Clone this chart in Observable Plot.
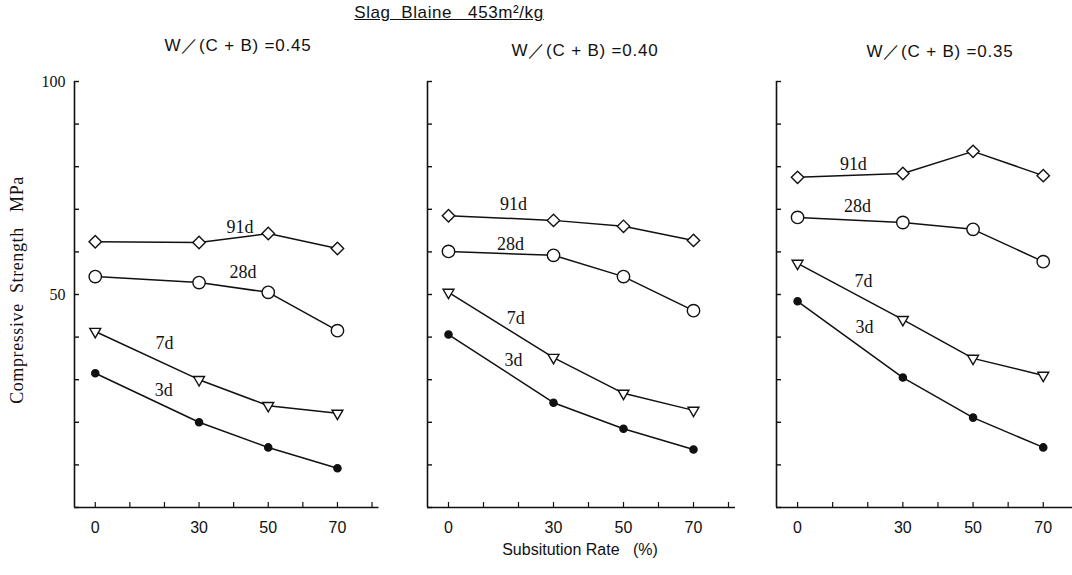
<!DOCTYPE html>
<html>
<head>
<meta charset="utf-8">
<script src="https://cdn.jsdelivr.net/npm/d3@7"></script>
<script src="https://cdn.jsdelivr.net/npm/@observablehq/plot@0.6"></script>
<style>
  html, body { margin: 0; padding: 0; background: #fff; overflow: hidden; }
  #chart { position: relative; width: 1072px; height: 575px; overflow: hidden; font-family: "Liberation Serif", "DejaVu Serif", serif; color: #111; }
  .panel { position: absolute; }
  .panel svg { max-width: none; }
  .txt { position: absolute; white-space: pre; color: #111; }
  .head { font-family: "Liberation Sans", "DejaVu Sans", sans-serif; font-size: 17px; transform: translateX(-50%); }
</style>
</head>
<body>
<div id="chart"></div>
<script>
// Substitution rate of slag (%)
const rates = [0, 30, 50, 70];
const ages = ["91d", "28d", "7d", "3d"];
const ratioTitles = ["W／(C + B) =0.45", "W／(C + B) =0.40", "W／(C + B) =0.35"];

// Compressive strength (MPa), W/(C+B) = 0.45
const wb045_91d = [62.4, 62.2, 64.3, 60.8];
const wb045_28d = [54.2, 52.8, 50.5, 41.5];
const wb045_7d  = [41.3, 30.0, 23.9, 22.1];
const wb045_3d  = [31.5, 20.0, 14.1, 9.2];
// W/(C+B) = 0.40
const wb040_91d = [68.5, 67.4, 66.0, 62.7];
const wb040_28d = [60.1, 59.2, 54.2, 46.2];
const wb040_7d  = [50.5, 35.2, 26.8, 22.8];
const wb040_3d  = [40.6, 24.6, 18.5, 13.6];
// W/(C+B) = 0.35
const wb035_91d = [77.5, 78.4, 83.6, 77.9];
const wb035_28d = [68.1, 66.9, 65.3, 57.7];
const wb035_7d  = [57.3, 44.1, 35.0, 31.0];
const wb035_3d  = [48.4, 30.5, 21.1, 14.1];

// Where each age label sits (rate, strength)
const labelRate045 = [41.8, 42.7, 20.0, 19.8];
const labelMPa045  = [65.7, 55.2, 38.5, 27.5];
const labelRate040 = [18.6, 17.7, 19.2, 18.6];
const labelMPa040  = [71.1, 61.7, 44.4, 34.5];
const labelRate035 = [15.9, 17.1, 18.8, 19.1];
const labelMPa035  = [80.5, 70.7, 53.1, 42.3];

const yTicks = d3.range(0, 101, 10);
const yLabelled = [50, 100];
const xTicks = d3.range(0, 81, 10);

const panelSeries = [
  [wb045_91d, wb045_28d, wb045_7d, wb045_3d],
  [wb040_91d, wb040_28d, wb040_7d, wb040_3d],
  [wb035_91d, wb035_28d, wb035_7d, wb035_3d]
];
const panelLabels = [
  [labelRate045, labelMPa045],
  [labelRate040, labelMPa040],
  [labelRate035, labelMPa035]
];

// layout of the three panels: left edge of y axis, pixels per % along x
const layout = [
  {axisLeft: 74, k: 3.46},
  {axisLeft: 427, k: 3.50},
  {axisLeft: 776, k: 3.51}
];

const symbolStyle = {
  "91d": {symbol: "diamond2", r: 5.6, fill: "white", rotate: 0},
  "28d": {symbol: "circle", r: 6.2, fill: "white", rotate: 0},
  "7d":  {symbol: "triangle2", r: 5.2, fill: "white", rotate: 180},
  "3d":  {symbol: "circle", r: 3.6, fill: "#111", rotate: 0}
};

const chart = document.getElementById("chart");
const xDomain = [-6, 82];
const mLeft = 50, mRight = 10, mTop = 20, mBottom = 40, plotH = 486, panelTop = 61;
const noLabel = () => "";

panelSeries.forEach((series, p) => {
  const rows = [];
  series.forEach((vals, a) => vals.forEach((v, i) => rows.push({age: ages[a], rate: rates[i], mpa: v})));
  const labels = ages.map((age, a) => ({age, rate: panelLabels[p][0][a], mpa: panelLabels[p][1][a]}));
  const {axisLeft, k} = layout[p];
  const plotW = mLeft + (xDomain[1] - xDomain[0]) * k + mRight;

  const marks = [
    Plot.ruleX([xDomain[0]], {stroke: "#111", strokeWidth: 1.6}),
    Plot.ruleY([0], {stroke: "#111", strokeWidth: 1.6}),
    Plot.axisY({ticks: yTicks, tickSize: -5, tickFormat: noLabel, stroke: "#111", strokeWidth: 1.4}),
    Plot.axisX({ticks: xTicks, tickSize: -5, tickFormat: noLabel, stroke: "#111", strokeWidth: 1.2}),
    Plot.axisX({ticks: rates, tickSize: 0, tickPadding: 14, fontSize: 16, fill: "#111",
                fontFamily: "Liberation Sans, DejaVu Sans, sans-serif"}),
    ...ages.map(age => Plot.line(rows.filter(d => d.age === age), {x: "rate", y: "mpa", stroke: "#111", strokeWidth: 1.5})),
    ...ages.map(age => {
      const s = symbolStyle[age];
      return Plot.dot(rows.filter(d => d.age === age), {x: "rate", y: "mpa", symbol: s.symbol, r: s.r,
        fill: s.fill, stroke: "#111", strokeWidth: 1.4, rotate: s.rotate});
    }),
    Plot.text(labels, {x: "rate", y: "mpa", text: "age", fontSize: 18, fill: "#111",
                       fontFamily: "Liberation Serif, DejaVu Serif, serif"})
  ];
  if (p === 0) {
    marks.push(Plot.axisY({ticks: yLabelled, tickSize: 0, tickPadding: 9, fontSize: 16, fill: "#111",
                           fontFamily: "Liberation Serif, DejaVu Serif, serif"}));
  }

  const svg = Plot.plot({
    width: plotW, height: plotH,
    marginLeft: mLeft, marginRight: mRight, marginTop: mTop, marginBottom: mBottom,
    x: {domain: xDomain, label: null},
    y: {domain: [0, 100], label: null},
    style: {background: "transparent", overflow: "visible", maxWidth: "none"},
    marks
  });
  const holder = document.createElement("div");
  holder.className = "panel";
  holder.style.left = (axisLeft - mLeft) + "px";
  holder.style.top = panelTop + "px";
  holder.style.width = plotW + "px";
  holder.style.height = plotH + "px";
  holder.appendChild(svg);
  chart.appendChild(holder);
});

function addText(text, x, y, cls, extra) {
  const el = document.createElement("div");
  el.className = "txt " + (cls || "");
  el.textContent = text;
  el.style.left = x + "px";
  el.style.top = y + "px";
  if (extra) Object.assign(el.style, extra);
  chart.appendChild(el);
  return el;
}

// overall heading
addText("Slag  Blaine   453m²/kg", 449, 3, "head", {textDecoration: "underline", fontSize: "17px", letterSpacing: "0.6px"});
// one heading per water-binder ratio
[238, 585, 940].forEach((cx, i) => addText(ratioTitles[i], cx, [34, 39, 40][i], "head", {letterSpacing: "0.8px"}));
// axis titles
addText("Compressive  Strength   MPa", 17, 290, "", {
  fontSize: "18px", transform: "translate(-50%, -50%) rotate(-90deg)", letterSpacing: "0.6px"
});
addText("Subsitution Rate   (%)", 580, 541, "head", {fontSize: "16px"});
</script>
</body>
</html>
